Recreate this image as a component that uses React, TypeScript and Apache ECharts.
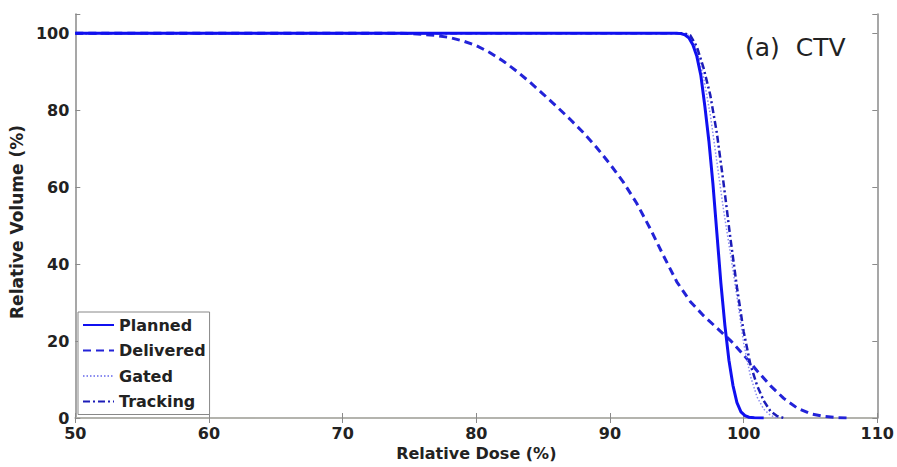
import React, { useEffect, useRef } from "react";
import * as echarts from "echarts";

const xTicks = [50, 60, 70, 80, 90, 100, 110];
const yTicks = [0, 20, 40, 60, 80, 100];

const plannedDose = [50, 95, 95.3, 95.6, 95.9, 96.2, 96.5, 96.8, 97.1, 97.4, 97.7, 98, 98.3, 98.6, 98.9, 99.2, 99.5, 99.8, 100.1, 100.4, 100.8, 101.5];
const plannedVolume = [100, 100, 99.9, 99.6, 98.8, 97, 94, 89, 81, 72, 61, 48, 35, 24, 15, 8.5, 4, 1.6, 0.6, 0.2, 0.05, 0];

const deliveredDose = [50, 74, 75, 76, 77, 78, 79, 80, 81, 82, 83, 84, 85, 86, 87, 88, 89, 90, 91, 92, 93, 94, 95, 96, 97, 98, 99, 100, 101, 102, 103, 104, 105, 106, 107, 108];
const deliveredVolume = [100, 100, 99.9, 99.7, 99.4, 98.9, 98, 96.8, 95, 92.8, 90.2, 87.3, 84.2, 81, 77.7, 74.2, 70.3, 66, 61.3, 55.8, 49.3, 42.2, 35.4, 30.3, 26.6, 23.4, 20.2, 16.4, 12.3, 8.4, 5.1, 2.6, 1.1, 0.4, 0.1, 0];

const gatedDose = [50, 95.5, 96, 96.5, 97, 97.5, 98, 98.5, 99, 99.5, 100, 100.5, 101, 101.5, 102, 102.5];
const gatedVolume = [100, 100, 99.3, 95.5, 88.5, 79, 66.5, 54, 43, 31.5, 19.5, 11, 5.5, 2.3, 0.7, 0];

const trackingDose = [50, 95.5, 96, 96.5, 97, 97.5, 98, 98.5, 99, 99.5, 100, 100.5, 101, 101.5, 102, 102.5, 103];
const trackingVolume = [100, 100, 99.5, 96.5, 91, 84, 74, 61, 47, 34, 22.5, 14, 8.5, 4.5, 1.8, 0.5, 0];

const seriesNames = ["Planned", "Delivered", "Gated", "Tracking"];

const zip = (xs: number[], ys: number[]) => xs.map((x, i) => [x, ys[i]]);

export default function App() {
  const ref = useRef<HTMLDivElement>(null);
  useEffect(() => {
    if (!ref.current) return;
    const chart = echarts.init(ref.current, null, { renderer: "svg" });
    const font = "'DejaVu Sans', sans-serif";
    const axisColor = "#8a8a8a";
    const lineBase = { symbol: "none", smooth: false, type: "line" as const };
    chart.setOption({
      animation: false,
      backgroundColor: "#ffffff",
      grid: { left: 73, right: 19, top: 14, bottom: 49, containLabel: false },
      xAxis: [
        {
          type: "value",
          min: xTicks[0],
          max: xTicks[xTicks.length - 1],
          interval: 10,
          name: "Relative Dose (%)",
          nameLocation: "middle",
          nameGap: 27,
          nameTextStyle: { fontFamily: font, fontWeight: "bold", fontSize: 16, color: "#222" },
          axisLine: { show: true, lineStyle: { color: axisColor, width: 1.5 } },
          axisTick: { show: true, inside: true, length: 5, lineStyle: { color: axisColor } },
          axisLabel: { fontFamily: font, fontWeight: "bold", fontSize: 16, color: "#222", margin: 7 },
          splitLine: { show: false },
        },
        {
          type: "value",
          position: "top",
          min: xTicks[0],
          max: xTicks[xTicks.length - 1],
          interval: 10,
          axisLine: { show: true, lineStyle: { color: "#b8b8b0", width: 1.5 } },
          axisTick: { show: true, inside: true, length: 5, lineStyle: { color: axisColor } },
          axisLabel: { show: false },
          splitLine: { show: false },
        },
      ],
      yAxis: [
        {
          type: "value",
          min: 0,
          max: 105,
          interval: 20,
          name: "Relative Volume (%)",
          nameLocation: "middle",
          nameGap: 46,
          nameTextStyle: {
            fontFamily: font,
            fontWeight: "bold",
            fontSize: 17,
            color: "#222",
            padding: [0, 12, 0, 0],
          },
          axisLine: { show: true, lineStyle: { color: axisColor, width: 1.5 } },
          axisTick: { show: true, inside: true, length: 5, lineStyle: { color: axisColor } },
          axisLabel: {
            fontFamily: font,
            fontWeight: "bold",
            fontSize: 16,
            color: "#222",
            margin: 6,
            formatter: (v: number) => (yTicks.includes(v) ? String(v) : ""),
          },
          splitLine: { show: false },
        },
        {
          type: "value",
          position: "right",
          min: 0,
          max: 105,
          interval: 20,
          axisLine: { show: true, lineStyle: { color: axisColor, width: 1.5 } },
          axisTick: { show: true, inside: true, length: 5, lineStyle: { color: axisColor } },
          axisLabel: { show: false },
          splitLine: { show: false },
        },
      ],
      legend: {
        data: seriesNames,
        orient: "vertical",
        left: 78,
        top: 312,
        itemWidth: 31,
        itemHeight: 16,
        itemGap: 9.5,
        padding: [5, 4, 5, 4],
        borderColor: "#888",
        borderWidth: 1,
        backgroundColor: "#ffffff",
        itemStyle: { opacity: 0 },
        textStyle: { fontFamily: font, fontWeight: "bold", fontSize: 16, color: "#222" },
      },
      graphic: [
        {
          type: "text",
          left: 745,
          top: 35,
          style: { text: "(a)  CTV", font: "25px 'DejaVu Sans', sans-serif", fill: "#222" },
        },
      ],
      series: [
        {
          ...lineBase,
          name: "Delivered",
          data: zip(deliveredDose, deliveredVolume),
          lineStyle: { color: "#2323d8", width: 3, type: [8, 5] },
          itemStyle: { color: "#2323d8" },
        },
        {
          ...lineBase,
          name: "Gated",
          data: zip(gatedDose, gatedVolume),
          lineStyle: { color: "#8a8cf0", width: 1.5, type: [1.5, 2] },
          itemStyle: { color: "#8a8cf0" },
        },
        {
          ...lineBase,
          name: "Tracking",
          data: zip(trackingDose, trackingVolume),
          lineStyle: { color: "#1c1cb8", width: 2.5, type: [7, 3, 2, 3] },
          itemStyle: { color: "#1c1cb8" },
        },
        {
          ...lineBase,
          name: "Planned",
          data: zip(plannedDose, plannedVolume),
          lineStyle: { color: "#1010f0", width: 3, type: "solid" },
          itemStyle: { color: "#1010f0" },
        },
      ],
    });
    return () => chart.dispose();
  }, []);
  return (
    <div
      ref={ref}
      style={{ position: "fixed", left: 0, top: 0, width: 897, height: 467, background: "#fff" }}
    />
  );
}
